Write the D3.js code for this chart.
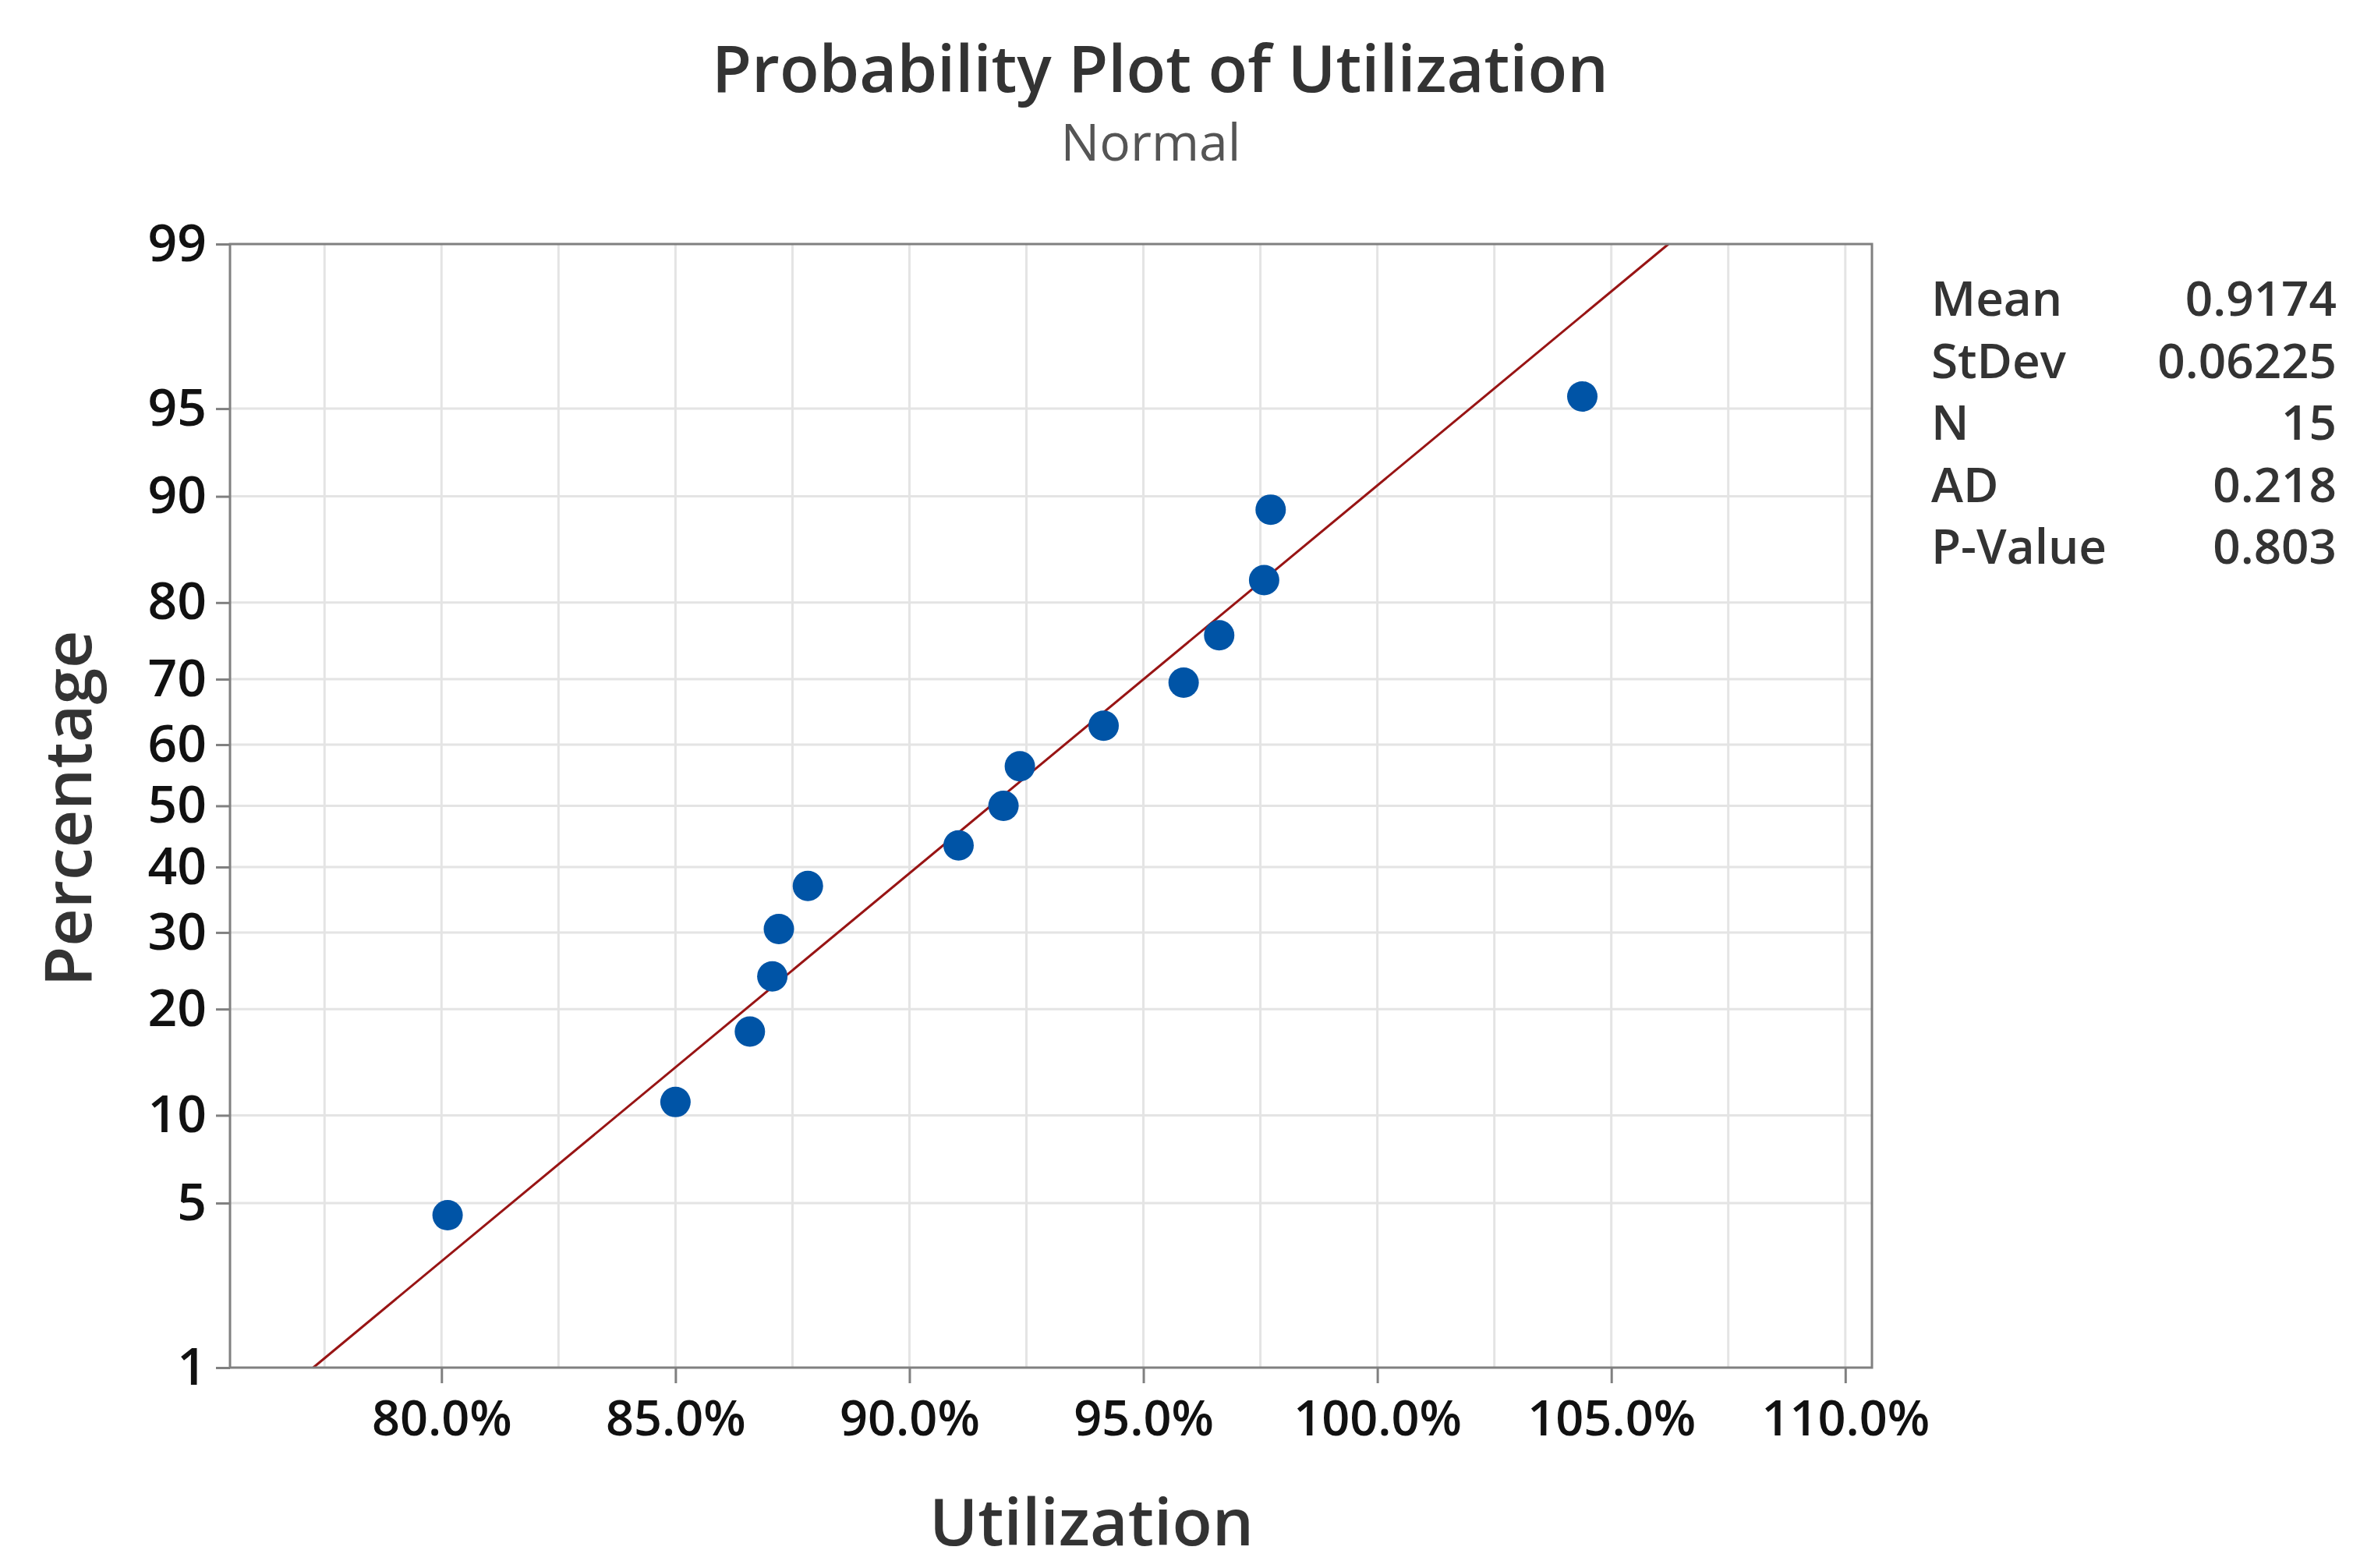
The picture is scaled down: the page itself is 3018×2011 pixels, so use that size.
<!DOCTYPE html>
<html>
<head>
<meta charset="utf-8">
<script src="https://cdn.jsdelivr.net/npm/d3@7"></script>
<style>
  html, body { margin: 0; padding: 0; background: #ffffff; }
  svg { display: block; }
  text { font-family: "Open Sans", "Noto Sans", sans-serif; }
</style>
</head>
<body>
<script>
// ---------------- data ----------------
const utilization = [0.8013, 0.8500, 0.8659, 0.8707, 0.8721, 0.8783, 0.9105, 0.9201,
                     0.9236, 0.9415, 0.9586, 0.9662, 0.9758, 0.9772, 1.0438];
const percentile  = [4.5, 11.0, 17.5, 24.0, 30.5, 37.0, 43.5, 50.0,
                     56.5, 63.0, 69.5, 76.0, 82.5, 89.0, 95.5];
const yTickValues = [1, 5, 10, 20, 30, 40, 50, 60, 70, 80, 90, 95, 99];
const xTickValues = [0.80, 0.85, 0.90, 0.95, 1.00, 1.05, 1.10];
const xGridValues = [0.775, 0.80, 0.825, 0.85, 0.875, 0.90, 0.925, 0.95, 0.975, 1.00, 1.025, 1.05, 1.075, 1.10];
const statLabels  = ["Mean", "StDev", "N", "AD", "P-Value"];
const statValues  = ["0.9174", "0.06225", "15", "0.218", "0.803"];
const fitMean = 0.9174;
const fitStDev = 0.06225;
const xDomain = [0.7548, 1.1057];
const pDomain = [1, 99];

// ------------- inverse normal (Acklam) -------------
function probit(p) {
  const a = [-3.969683028665376e+01, 2.209460984245205e+02, -2.759285104469687e+02,
             1.383577518672690e+02, -3.066479806614716e+01, 2.506628277459239e+00];
  const b = [-5.447609879822406e+01, 1.615858368580409e+02, -1.556989798598866e+02,
             6.680131188771972e+01, -1.328068155288572e+01];
  const c = [-7.784894002430293e-03, -3.223964580411365e-01, -2.400758277161838e+00,
             -2.549732539343734e+00, 4.374664141464968e+00, 2.938163982698783e+00];
  const d = [7.784695709041462e-03, 3.224671290700398e-01, 2.445134137142996e+00,
             3.754408661907416e+00];
  const pl = 0.02425, ph = 1 - pl;
  let q, r;
  if (p < pl) {
    q = Math.sqrt(-2 * Math.log(p));
    return (((((c[0]*q+c[1])*q+c[2])*q+c[3])*q+c[4])*q+c[5]) /
           ((((d[0]*q+d[1])*q+d[2])*q+d[3])*q+1);
  } else if (p <= ph) {
    q = p - 0.5; r = q*q;
    return (((((a[0]*r+a[1])*r+a[2])*r+a[3])*r+a[4])*r+a[5])*q /
           (((((b[0]*r+b[1])*r+b[2])*r+b[3])*r+b[4])*r+1);
  } else {
    q = Math.sqrt(-2 * Math.log(1 - p));
    return -(((((c[0]*q+c[1])*q+c[2])*q+c[3])*q+c[4])*q+c[5]) /
            ((((d[0]*q+d[1])*q+d[2])*q+d[3])*q+1);
  }
}

// ------------- layout -------------
const W = 3018, H = 2011;
const plot = { left: 295, right: 2401, top: 313, bottom: 1754 };

const svg = d3.select("body").append("svg").attr("width", W).attr("height", H);

const x = d3.scaleLinear().domain(xDomain).range([plot.left, plot.right]);
const zScale = d3.scaleLinear().domain(pDomain.map(p => probit(p / 100))).range([plot.bottom, plot.top]);
const y = p => zScale(probit(p / 100));

// gridlines
const grid = svg.append("g");
grid.selectAll("line.vg").data(xGridValues).join("line")
  .attr("x1", d => x(d)).attr("x2", d => x(d))
  .attr("y1", plot.top).attr("y2", plot.bottom)
  .attr("stroke", "#e4e4e4").attr("stroke-width", 3);
grid.selectAll("line.hg").data(yTickValues.filter(v => v > pDomain[0] && v < pDomain[1])).join("line")
  .attr("x1", plot.left).attr("x2", plot.right)
  .attr("y1", d => y(d)).attr("y2", d => y(d))
  .attr("stroke", "#e4e4e4").attr("stroke-width", 3);

// fitted line
const zLo = probit(pDomain[0] / 100), zHi = probit(pDomain[1] / 100);
const fitPts = [zLo, zHi].map(z => [x(fitMean + z * fitStDev), zScale(z)]);
svg.append("path")
  .attr("d", d3.line()(fitPts))
  .attr("stroke", "#981414").attr("stroke-width", 3).attr("fill", "none");

// points
svg.append("g").selectAll("circle").data(utilization.map((u, i) => [u, percentile[i]])).join("circle")
  .attr("cx", d => x(d[0])).attr("cy", d => y(d[1]))
  .attr("r", 19.5).attr("fill", "#0054a6");

// frame
svg.append("rect")
  .attr("x", plot.left).attr("y", plot.top)
  .attr("width", plot.right - plot.left).attr("height", plot.bottom - plot.top)
  .attr("fill", "none").attr("stroke", "#808080").attr("stroke-width", 3);

// y axis
const yAxis = d3.axisLeft(zScale)
  .tickValues(yTickValues.map(p => probit(p / 100)))
  .tickFormat((d, i) => String(yTickValues[i]))
  .tickSize(18).tickSizeOuter(0).tickPadding(12);
const gy = svg.append("g").attr("transform", `translate(${plot.left},0)`).call(yAxis);
gy.select(".domain").remove();
gy.selectAll(".tick line").attr("stroke", "#808080").attr("stroke-width", 3);
gy.selectAll(".tick text").attr("font-size", 66).attr("font-weight", 600).attr("fill", "#111")
  .attr("font-family", "'Open Sans', sans-serif");

// x axis
const xAxis = d3.axisBottom(x)
  .tickValues(xTickValues)
  .tickFormat(d3.format(".1%"))
  .tickSize(20).tickSizeOuter(0).tickPadding(22);
const gx = svg.append("g").attr("transform", `translate(0,${plot.bottom})`).call(xAxis);
gx.select(".domain").remove();
gx.selectAll(".tick line").attr("stroke", "#808080").attr("stroke-width", 3);
gx.selectAll(".tick text").attr("font-size", 63).attr("font-weight", 600).attr("fill", "#111")
  .attr("font-family", "'Open Sans', sans-serif");

// titles
svg.append("text").attr("x", 1488).attr("y", 118).attr("text-anchor", "middle")
  .attr("font-size", 83).attr("font-weight", 600).attr("fill", "#333333")
  .text("Probability Plot of Utilization");
svg.append("text").attr("x", 1476).attr("y", 206).attr("text-anchor", "middle")
  .attr("font-size", 66).attr("font-weight", 400).attr("fill", "#555555")
  .text("Normal");
svg.append("text").attr("x", 1400).attr("y", 1982).attr("text-anchor", "middle")
  .attr("font-size", 84).attr("font-weight", 600).attr("fill", "#333333")
  .text("Utilization");
svg.append("text").attr("transform", "translate(117,1037) rotate(-90)").attr("text-anchor", "middle")
  .attr("font-size", 84).attr("font-weight", 600).attr("fill", "#333333")
  .text("Percentage");

// stats block
const stats = svg.append("g");
const rowY = i => 405 + i * 79.5;
stats.selectAll("text.lab").data(statLabels).join("text")
  .attr("x", 2477).attr("y", (d, i) => rowY(i))
  .attr("font-size", 62).attr("fill", "#333333").attr("font-weight", 600)
  .text(d => d);
stats.selectAll("text.val").data(statValues).join("text")
  .attr("x", 2997).attr("y", (d, i) => rowY(i)).attr("text-anchor", "end")
  .attr("font-size", 62).attr("fill", "#333333").attr("font-weight", 600)
  .text(d => d);
</script>
</body>
</html>
